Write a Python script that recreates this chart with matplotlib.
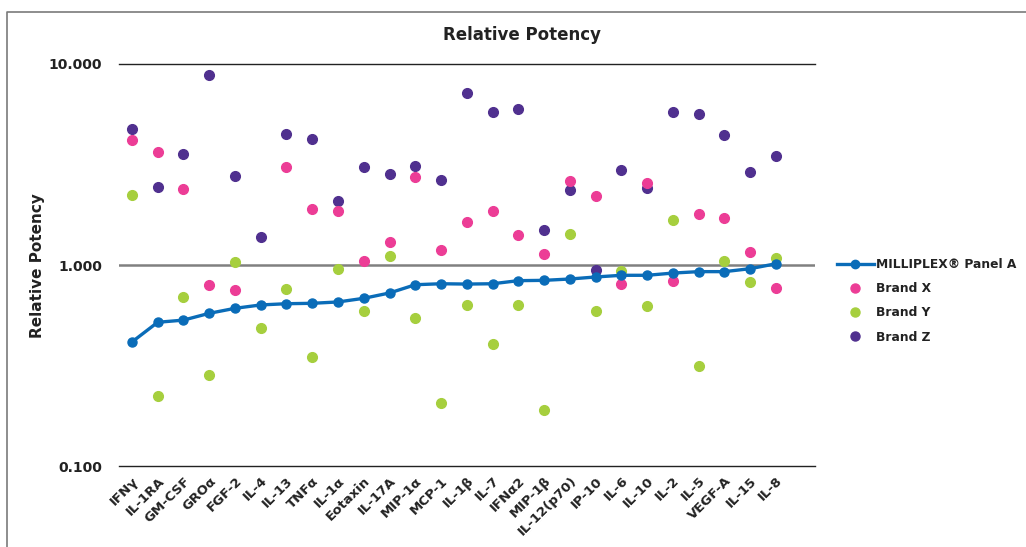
import numpy as np
import matplotlib
matplotlib.use('Agg')
import matplotlib.pyplot as plt
from matplotlib.lines import Line2D

plt.rcParams['font.family'] = ['DejaVu Sans']

categories = ['IFNγ', 'IL-1RA', 'GM-CSF', 'GROα', 'FGF-2', 'IL-4', 'IL-13', 'TNFα',
              'IL-1α', 'Eotaxin', 'IL-17A', 'MIP-1α', 'MCP-1', 'IL-1β', 'IL-7', 'IFNα2',
              'MIP-1β', 'IL-12(p70)', 'IP-10', 'IL-6', 'IL-10', 'IL-2', 'IL-5', 'VEGF-A',
              'IL-15', 'IL-8']

panel_a = [0.414, 0.519, 0.532, 0.575, 0.609, 0.633, 0.642, 0.645, 0.655, 0.683,
           0.726, 0.798, 0.807, 0.804, 0.807, 0.836, 0.839, 0.852, 0.872, 0.889,
           0.889, 0.912, 0.927, 0.927, 0.959, 1.015]
brand_x = [4.20, 3.66, 2.40, 0.798, 0.751, np.nan, 3.08, 1.91, 1.86, 1.047,
           1.30, 2.75, 1.19, 1.64, 1.85, 1.41, 1.14, 2.63, 2.21, 0.807,
           2.57, 0.836, 1.80, 1.71, 1.16, 0.771]
brand_y = [2.24, 0.222, 0.693, 0.284, 1.031, 0.488, 0.763, 0.350, 0.955, 0.588,
           1.104, 0.543, 0.207, 0.633, 0.406, 0.633, 0.191, 1.42, 0.588, 0.930,
           0.625, 1.67, 0.313, 1.047, 0.823, 1.08]
brand_z = [4.75, 2.44, 3.57, 8.78, 2.77, 1.38, 4.47, 4.24, 2.08, 3.06,
           2.83, 3.12, 2.66, 7.20, 5.79, 5.95, 1.49, 2.36, 0.948, 2.98,
           2.42, 5.79, 5.66, 4.42, 2.90, 3.50]

c_blue = '#0a6cb8'
c_pink = '#ec3d96'
c_green = '#a6cf3e'
c_purple = '#50308f'

fig = plt.figure(figsize=(10.26, 5.47), dpi=100, facecolor='white')
ax = fig.add_axes((0.116, 0.148, 0.678, 0.735))

x = np.arange(len(categories))

# grid lines first so markers sit on top
ax.axhline(10, color='#222222', lw=1.0, zorder=1, clip_on=False)
ax.axhline(1, color='#808080', lw=1.8, zorder=1)
ax.axhline(0.1, color='#222222', lw=1.0, zorder=1, clip_on=False)

ax.plot(x, brand_z, 'o', color=c_purple, ms=7, ls='none', label='Brand Z', zorder=3)
ax.plot(x, brand_x, 'o', color=c_pink, ms=7, ls='none', label='Brand X', zorder=3)
ax.plot(x, brand_y, 'o', color=c_green, ms=7, ls='none', label='Brand Y', zorder=3)
ax.plot(x, panel_a, '-o', color=c_blue, lw=2.4, ms=6.5, label='MILLIPLEX® Panel A', zorder=4)

ax.set_yscale('log')
ax.set_ylim(0.1, 10)
ax.set_xlim(-0.5, 26.5)
ax.set_yticks([0.1, 1, 10])
ax.set_yticklabels(['0.100', '1.000', '10.000'], fontsize=10, fontweight='bold', color='#222222')
ax.yaxis.set_minor_locator(matplotlib.ticker.NullLocator())
ax.set_xticks(x)
ax.set_xticklabels(categories, rotation=45, ha='right', va='top', rotation_mode='anchor',
                   fontsize=9.5, fontweight='bold', color='#222222')
ax.tick_params(axis='y', length=0, pad=12)
ax.tick_params(axis='x', length=0, pad=6)
for s in ax.spines.values():
    s.set_visible(False)

fig.text(0.5088, 0.936, 'Relative Potency', ha='center', va='center',
         fontsize=12, fontweight='bold', color='#222222')
fig.text(0.037, 0.515, 'Relative Potency', ha='center', va='center', rotation=90,
         fontsize=11, fontweight='bold', color='#222222')

handles = [
    Line2D([], [], color=c_blue, lw=2.4, marker='o', ms=6),
    Line2D([], [], color=c_pink, marker='o', ms=6.5, ls='none'),
    Line2D([], [], color=c_green, marker='o', ms=6.5, ls='none'),
    Line2D([], [], color=c_purple, marker='o', ms=6.5, ls='none'),
]
labels = ['MILLIPLEX® Panel A', 'Brand X', 'Brand Y', 'Brand Z']
fig.legend(handles, labels, loc='center left', bbox_to_anchor=(0.805, 0.45),
           frameon=False, prop={'weight': 'bold', 'size': 8.8}, labelcolor='#222222',
           handlelength=3.0, handletextpad=0.2, labelspacing=0.92)

# outer frame (left and top only)
fig.add_artist(Line2D([7 / 1026, 7 / 1026, 1.0], [0.0, 1 - 12 / 547, 1 - 12 / 547],
                      transform=fig.transFigure, color='#7a7a7a', lw=1.2))

fig.savefig('out.png', dpi=100, facecolor='white')
